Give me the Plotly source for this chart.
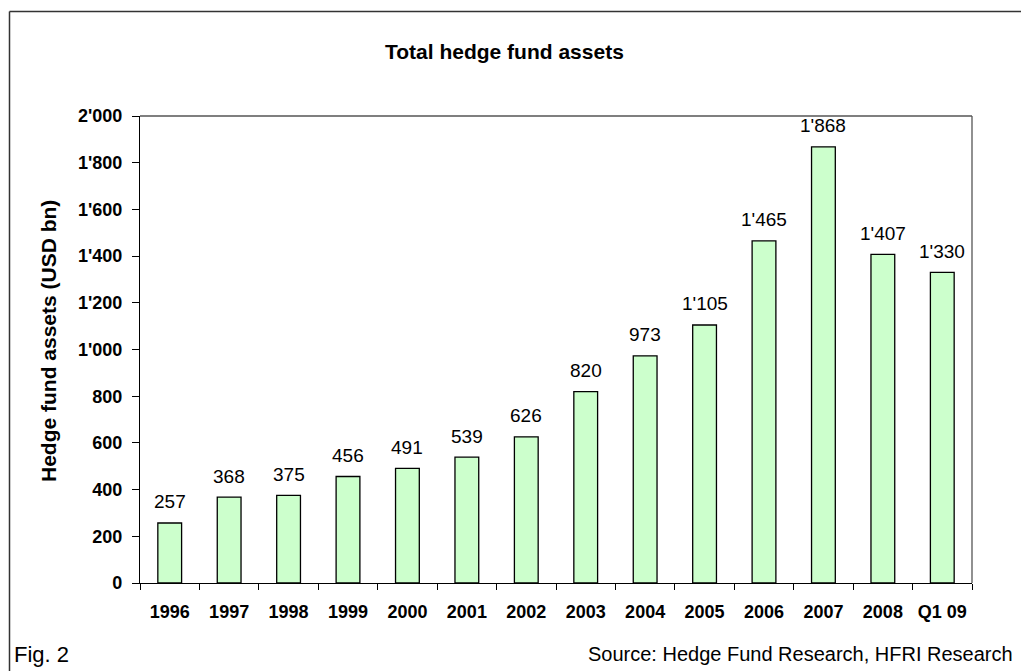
import plotly.graph_objects as go

# Total hedge fund assets, USD bn
categories = ["1996", "1997", "1998", "1999", "2000", "2001", "2002",
              "2003", "2004", "2005", "2006", "2007", "2008", "Q1 09"]
assets = [257, 368, 375, 456, 491, 539, 626, 820, 973, 1105, 1465, 1868, 1407, 1330]
y_ticks = [0, 200, 400, 600, 800, 1000, 1200, 1400, 1600, 1800, 2000]

W, H = 1021, 671
L, R, T, B = 140, 49, 116, 88
PW, PH = W - L - R, H - T - B

def px(x):
    return (x - L) / PW

def py(y):
    return (H - B - y) / PH

def fmt(v):
    return f"{v:,}".replace(",", "'")

FONT = "Liberation Sans, Arial, sans-serif"

fig = go.Figure(go.Bar(
    x=categories,
    y=assets,
    width=0.4,
    marker=dict(color="#CCFFCC", line=dict(color="#000000", width=1.3)),
    cliponaxis=False,
))

# value labels above each bar (category axis: annotations use the category's serial number)
for idx, val in enumerate(assets):
    fig.add_annotation(x=idx, y=val, text=fmt(val), showarrow=False,
                       xanchor="center", yanchor="middle", yshift=21,
                       font=dict(family=FONT, size=19, color="#000000"))

fig.update_layout(
    width=W, height=H,
    margin=dict(l=L, r=R, t=T, b=B, pad=0),
    paper_bgcolor="white",
    plot_bgcolor="white",
    separators=".'",
    showlegend=False,
    bargap=0.6,
    font=dict(family=FONT, color="#000000"),
)

fig.update_xaxes(
    type="category",
    categoryorder="array", categoryarray=categories,
    range=[-0.5, len(categories) - 0.5],
    showline=True, linecolor="#000000", linewidth=1.3,
    ticks="outside", tickson="boundaries", ticklen=6, tickcolor="#000000", tickwidth=1.3,
    tickfont=dict(family=FONT, size=18, color="#000000", weight="bold"),
    ticklabelstandoff=12,
    showgrid=False, zeroline=False,
)

fig.update_yaxes(
    range=[0, 2000],
    tickvals=y_ticks,
    tickformat=",d",
    showline=True, linecolor="#000000", linewidth=1.3,
    ticks="outside", ticklen=7, tickcolor="#000000", tickwidth=1.3,
    tickfont=dict(family=FONT, size=18, color="#000000", weight="bold"),
    ticklabelstandoff=6,
    showgrid=False, zeroline=False,
)

# plot-area outline (top and right edges)
fig.add_shape(type="line", xref="paper", yref="paper", x0=0, x1=1, y0=1, y1=1,
              line=dict(color="#555555", width=1.3), layer="below")
fig.add_shape(type="line", xref="paper", yref="paper", x0=1, x1=1, y0=0, y1=1,
              line=dict(color="#555555", width=1.3), layer="below")

# outer frame (top and left edges)
fig.add_shape(type="line", xref="paper", yref="paper",
              x0=px(9.5), x1=px(1025), y0=py(11.5), y1=py(11.5),
              line=dict(color="#333333", width=1.5))
fig.add_shape(type="line", xref="paper", yref="paper",
              x0=px(9.5), x1=px(9.5), y0=py(11.5), y1=py(675),
              line=dict(color="#333333", width=1.5))

fig.add_annotation(text="<b>Total hedge fund assets</b>", xref="paper", yref="paper",
                   x=px(504), y=py(51), xanchor="center", yanchor="middle", showarrow=False,
                   font=dict(family=FONT, size=21, color="#000000"))
fig.add_annotation(text="<b>Hedge fund assets (USD bn)</b>", xref="paper", yref="paper",
                   x=px(48), y=py(341), xanchor="center", yanchor="middle",
                   textangle=-90, showarrow=False,
                   font=dict(family=FONT, size=21, color="#000000"))
fig.add_annotation(text="Fig. 2", xref="paper", yref="paper",
                   x=px(12), y=py(654), xanchor="left", yanchor="middle", showarrow=False,
                   font=dict(family=FONT, size=22, color="#000000"))
fig.add_annotation(text="Source: Hedge Fund Research, HFRI Research", xref="paper", yref="paper",
                   x=px(1015), y=py(654), xanchor="right", yanchor="middle", showarrow=False,
                   font=dict(family=FONT, size=20, color="#000000"))

fig.write_html("out.html")
